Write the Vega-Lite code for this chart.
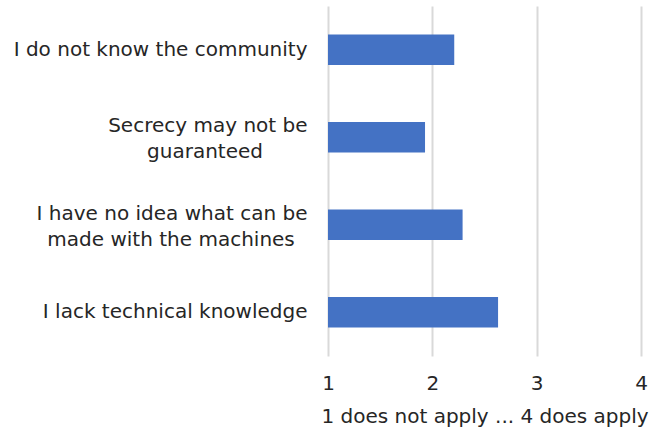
{
  "$schema": "https://vega.github.io/schema/vega-lite/v6.json",
  "autosize": "none",
  "width": 313,
  "height": 350,
  "padding": {"left": 328, "top": 6, "right": 15, "bottom": 82},
  "background": "white",
  "config": {
    "view": {"stroke": null},
    "font": "DejaVu Sans"
  },
  "data": {
    "values": [
      {"reason": "I do not know the community", "score": 2.21},
      {"reason": "Secrecy may not be guaranteed", "score": 1.93},
      {"reason": "I have no idea what can be made with the machines", "score": 2.29},
      {"reason": "I lack technical knowledge", "score": 2.63}
    ]
  },
  "mark": {"type": "bar", "color": "#4472C4"},
  "encoding": {
    "y": {
      "field": "reason",
      "type": "nominal",
      "sort": null,
      "scale": {"paddingInner": 0.65, "paddingOuter": 0.325},
      "axis": {
        "title": null,
        "domain": false,
        "ticks": false,
        "labelFont": "DejaVu Sans",
        "labelFontSize": 20,
        "labelColor": "#262626",
        "labelPadding": 21,
        "labelLimit": 400,
        "labelLineHeight": 26,
        "labelOffset": {
          "condition": {
            "test": "datum.value == 'Secrecy may not be guaranteed' || datum.value == 'I have no idea what can be made with the machines'",
            "value": -11
          },
          "value": 0
        },
        "labelExpr": "datum.value == 'Secrecy may not be guaranteed' ? ['Secrecy may not be', 'guaranteed\u00a0\u00a0\u00a0\u00a0\u00a0\u00a0\u00a0\u200b'] : datum.value == 'I have no idea what can be made with the machines' ? ['I have no idea what can be', 'made with the machines\u00a0\u00a0\u200b'] : datum.value"
      }
    },
    "x": {
      "field": "score",
      "type": "quantitative",
      "scale": {"domain": [1, 4], "nice": false, "zero": false},
      "axis": {
        "values": [1, 2, 3, 4],
        "title": "1 does not apply ... 4 does apply",
        "titleFont": "DejaVu Sans",
        "titleFontSize": 20,
        "titleFontWeight": "normal",
        "titleColor": "#262626",
        "titlePadding": 13,
        "domain": false,
        "ticks": false,
        "grid": true,
        "gridColor": "#d9d9d9",
        "gridWidth": 2,
        "labelFont": "DejaVu Sans",
        "labelFontSize": 20,
        "labelColor": "#262626",
        "labelPadding": 17,
        "labelFlush": false
      }
    },
    "x2": {"datum": 1}
  }
}
